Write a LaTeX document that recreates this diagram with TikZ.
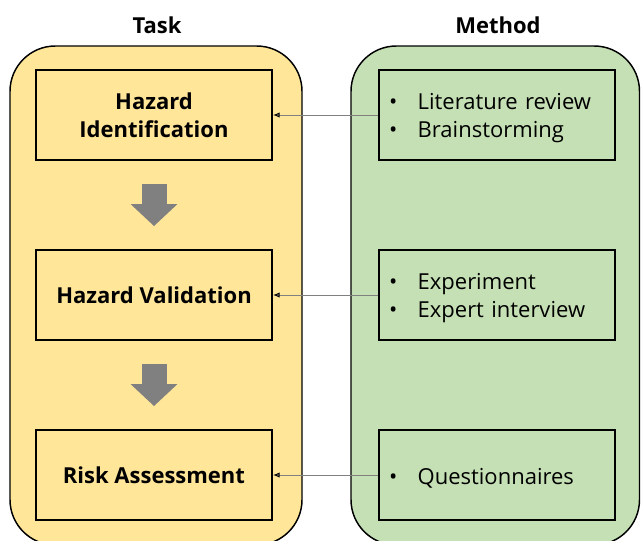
\documentclass[tikz,border=0pt]{standalone}
\usepackage{fontspec}
\setmainfont{Open Sans}
\usetikzlibrary{arrows.meta}

\definecolor{taskfill}{HTML}{FFE699}
\definecolor{methodfill}{HTML}{C5E0B4}
\definecolor{flowgray}{HTML}{808080}

% bullet with a tall strut, so the list sits a bit lower in its box
\newcommand{\mitem}{\rule{0pt}{16.5pt}\makebox[29pt][l]{\hspace{7.5pt}\textbullet}}

\begin{document}
\begin{tikzpicture}[x=0.75pt,y=-0.75pt,
    panel/.style={draw=black,line width=1.1pt,rounded corners=34pt},
    task_node/.style={draw=black,fill=taskfill,line width=1.5pt,minimum width=177pt,minimum height=67.5pt,
        inner sep=0pt,align=center,font=\bfseries\fontsize{16.5}{21}\selectfont},
    method_node/.style={draw=black,fill=methodfill,line width=1.5pt,minimum width=177pt,minimum height=67.5pt,
        inner sep=0pt,text width=177pt,align=left,font=\fontsize{16.5}{21}\selectfont},
    head_node/.style={anchor=base,font=\bfseries\fontsize{16.5}{21}\selectfont},
    flow/.style={flowgray,line width=18.75pt,-{Triangle[length=16.5pt,width=35.25pt,line width=0pt]}},
    link/.style={flowgray,line width=0.7pt,-{Latex[length=5pt,width=4pt,black]}}]

    \clip (0,0) rectangle (641,540);

    % the two columns
    \draw[panel,fill=taskfill] (10,46) rectangle (302,545);
    \draw[panel,fill=methodfill] (351,46) rectangle (639.5,545);

    \node[head_node] (task) at (157,33) {Task};
    \node[head_node] (method) at (498,33) {Method};

    \node[task_node] (t1) at (154,115) {Hazard\\Identification};
    \node[task_node] (t2) at (154,295) {Hazard Validation};
    \node[task_node] (t3) at (154,475) {Risk Assessment};

    \node[method_node] (m1) at (497,115) {\mitem Literature review\\\mitem Brainstorming};
    \node[method_node] (m2) at (497,295) {\mitem Experiment\\\mitem Expert interview};
    \node[method_node] (m3) at (497,475) {\mitem Questionnaires};

    % task order
    \draw[flow] ([yshift=-17.25pt]t1.south) -- ([yshift=17.25pt]t2.north);
    \draw[flow] ([yshift=-17.25pt]t2.south) -- ([yshift=17.25pt]t3.north);

  \path[link]
    (m1) edge (t1)
    (m2) edge (t2)
    (m3) edge (t3);
\end{tikzpicture}
\end{document}
